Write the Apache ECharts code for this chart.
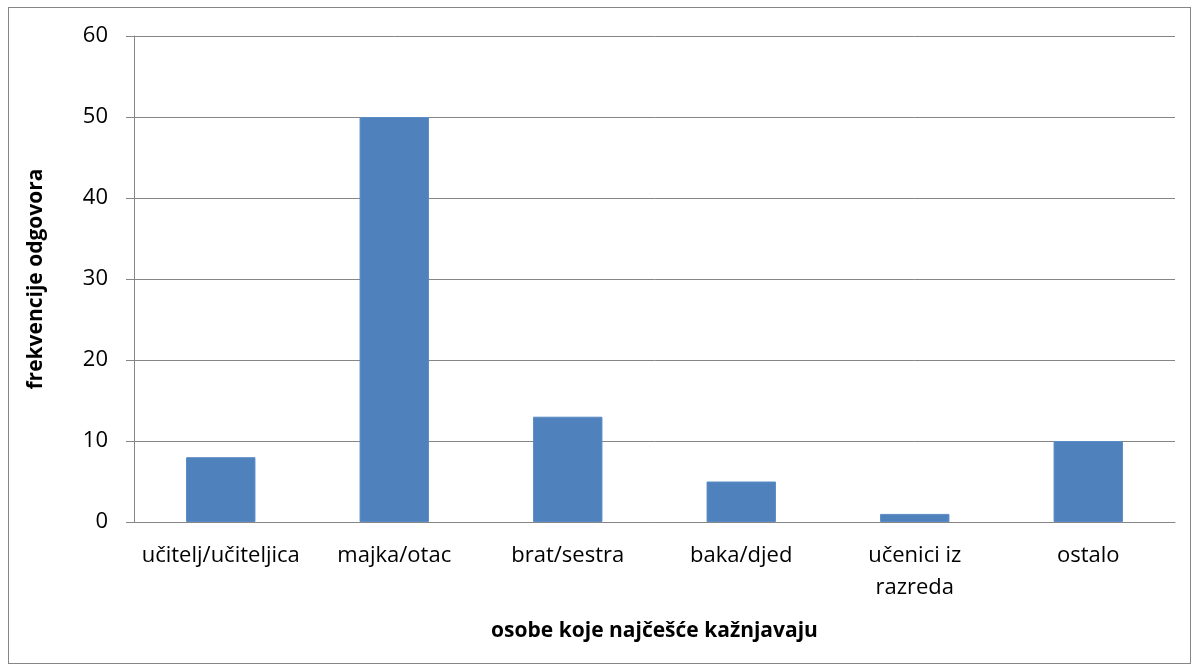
<!DOCTYPE html>
<html><head><meta charset="utf-8">
<script src="https://cdn.jsdelivr.net/npm/echarts@6/dist/echarts.min.js"></script>
<style>html,body{margin:0;padding:0;background:#fff}#c{width:1200px;height:672px}
#frame{position:absolute;left:8px;top:7px;width:1183px;height:657px;border:1px solid #868686;box-sizing:border-box;pointer-events:none}</style>
</head><body><div id="c"></div><div id="frame"></div>
<script>
const categories = ['učitelj/učiteljica', 'majka/otac', 'brat/sestra', 'baka/djed', 'učenici iz\nrazreda', 'ostalo'];
const values = [8, 50, 13, 5, 1, 10];
const yTicks = [0, 10, 20, 30, 40, 50, 60];
const xTitle = 'osobe koje najčešće kažnjavaju';
const yTitle = 'frekvencije odgovora';

const chart = echarts.init(document.getElementById('c'));
const font = 'Open Sans, Liberation Sans, sans-serif';
chart.setOption({
  animation: false,
  grid: { left: 134, right: 25, top: 36, bottom: 150 },
  xAxis: {
    type: 'category', data: categories,
    name: xTitle, nameLocation: 'middle', nameGap: 99,
    nameTextStyle: { fontFamily: font, fontSize: 21, fontWeight: 'bold', color: '#000' },
    axisLine: { lineStyle: { color: '#868686', width: 1 } },
    axisTick: { show: false },
    axisLabel: { fontFamily: font, fontSize: 22, color: '#000', margin: 18, lineHeight: 32, interval: 0 }
  },
  yAxis: {
    type: 'value', min: yTicks[0], max: yTicks[yTicks.length - 1], interval: 10,
    name: yTitle, nameLocation: 'middle', nameGap: 87,
    nameTextStyle: { fontFamily: font, fontSize: 21, fontWeight: 'bold', color: '#000' },
    axisLine: { show: true, lineStyle: { color: '#868686', width: 1 } },
    axisTick: { show: true, length: 8, lineStyle: { color: '#868686' } },
    axisLabel: { fontFamily: font, fontSize: 22, color: '#000', margin: 26 },
    splitLine: { lineStyle: { color: '#868686', width: 1 } }
  },
  series: [{
    type: 'bar', data: values, barCategoryGap: '60%',
    itemStyle: { color: '#4f81bd', borderColor: '#5b8cc6', borderWidth: 1 }
  }]
});
</script></body></html>
